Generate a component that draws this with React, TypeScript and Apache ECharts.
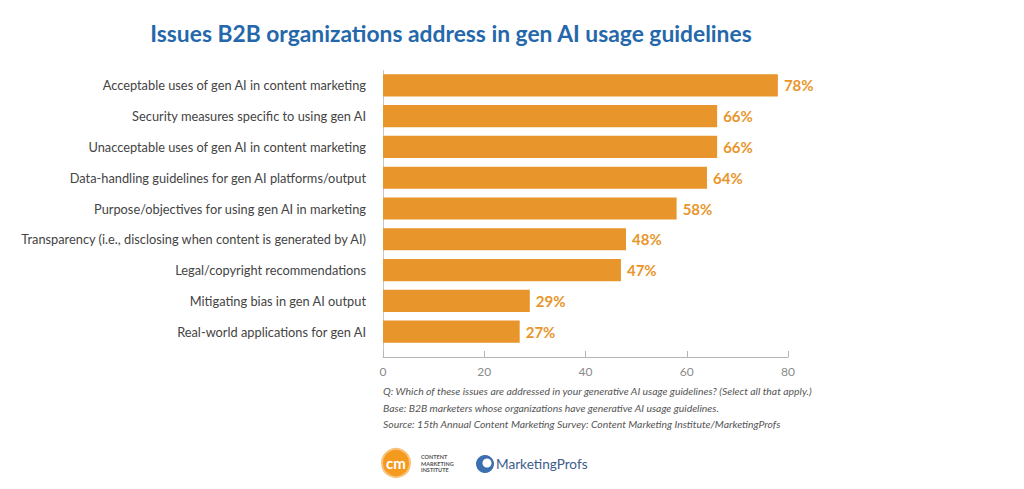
import React, { useEffect, useRef } from "react";
import * as echarts from "echarts";

const categories = [
  "Acceptable uses of gen AI in content marketing",
  "Security measures specific to using gen AI",
  "Unacceptable uses of gen AI in content marketing",
  "Data-handling guidelines for gen AI platforms/output",
  "Purpose/objectives for using gen AI in marketing",
  "Transparency (i.e., disclosing when content is generated by AI)",
  "Legal/copyright recommendations",
  "Mitigating bias in gen AI output",
  "Real-world applications for gen AI",
];
const values = [78, 66, 66, 64, 58, 48, 47, 29, 27];
const xTicks = [0, 20, 40, 60, 80];

const titleText = "Issues B2B organizations address in gen AI usage guidelines";
const notes = [
  "Q: Which of these issues are addressed in your generative AI usage guidelines? (Select all that apply.)",
  "Base: B2B marketers whose organizations have generative AI usage guidelines.",
  "Source: 15th Annual Content Marketing Survey: Content Marketing Institute/MarketingProfs",
];

const ORANGE = "#E8962B";

export default function App() {
  const ref = useRef<HTMLDivElement>(null);
  useEffect(() => {
    if (!ref.current) return;
    const chart = echarts.init(ref.current, undefined, { renderer: "svg" });
    chart.setOption({
      animation: false,
      backgroundColor: "#ffffff",
      title: {
        text: titleText,
        left: 446,
        textAlign: "center",
        top: 16,
        textStyle: {
          fontFamily: "Lato",
          fontWeight: "bold",
          fontSize: 22.8,
          color: "#2468AB",
        },
      },
      grid: { left: 383, width: 405, top: 70, height: 277 },
      xAxis: {
        type: "value",
        min: 0,
        max: 80,
        interval: 20,
        offset: 10,
        axisLine: { show: true, lineStyle: { color: "#b5b5b5", width: 1 } },
        axisTick: { show: true, inside: true, length: 6, lineStyle: { color: "#b5b5b5" } },
        splitLine: { show: false },
        axisLabel: {
          color: "#8a8a8a",
          fontFamily: "Lato",
          fontSize: 12,
          margin: 8,
          formatter: (v: number) => (xTicks.includes(v) ? String(v) : ""),
        },
      },
      yAxis: {
        type: "category",
        inverse: true,
        data: categories,
        axisLine: { show: false },
        axisTick: { show: false },
        axisLabel: {
          color: "#444444",
          fontFamily: "Lato",
          fontSize: 12.8,
          margin: 17,
        },
      },
      series: [
        {
          type: "bar",
          data: values,
          barCategoryGap: "28%",
          itemStyle: { color: ORANGE },
          label: {
            show: true,
            position: "right",
            distance: 6,
            formatter: "{c}%",
            color: ORANGE,
            fontFamily: "Lato",
            fontWeight: "bold",
            fontSize: 15,
          },
        },
      ],
      graphic: [
        {
          type: "line",
          shape: { x1: 383.5, y1: 70, x2: 383.5, y2: 357 },
          style: { stroke: "#c8c8c8", lineWidth: 1 },
        },
        ...notes.map((t, i) => ({
          type: "text",
          left: 383,
          top: 386 + i * 16.5,
          style: {
            text: t,
            fontFamily: "Lato",
            fontStyle: "italic",
            fontSize: 10.4,
            fill: "#555555",
          },
        })),
        {
          type: "circle",
          shape: { cx: 396, cy: 463, r: 14 },
          style: { fill: "#F39A1F", stroke: "#F8C27A", lineWidth: 2 },
        },
        {
          type: "text",
          x: 396,
          y: 463,
          style: {
            text: "cm",
            fontFamily: "Lato",
            fontWeight: "bold",
            fontSize: 15,
            fill: "#ffffff",
            align: "center",
            verticalAlign: "middle",
          },
        },
        {
          type: "text",
          x: 421,
          y: 454,
          style: {
            text: "CONTENT\nMARKETING\nINSTITUTE",
            fontFamily: "Lato",
            fontWeight: "bold",
            fontSize: 5.5,
            lineHeight: 6.5,
            fill: "#555555",
          },
        },
        {
          type: "circle",
          shape: { cx: 485, cy: 464, r: 9 },
          style: { fill: "#3B6FB0" },
        },
        {
          type: "circle",
          shape: { cx: 487, cy: 463, r: 4.5 },
          style: { fill: "#ffffff" },
        },
        {
          type: "text",
          x: 496,
          y: 464,
          style: {
            text: "MarketingProfs",
            fontFamily: "Lato",
            fontSize: 13.6,
            fill: "#3E5C8C",
            verticalAlign: "middle",
          },
        },
      ],
    });
    return () => chart.dispose();
  }, []);
  return (
    <div
      ref={ref}
      style={{ position: "fixed", left: 0, top: 0, width: 1024, height: 489 }}
    />
  );
}
